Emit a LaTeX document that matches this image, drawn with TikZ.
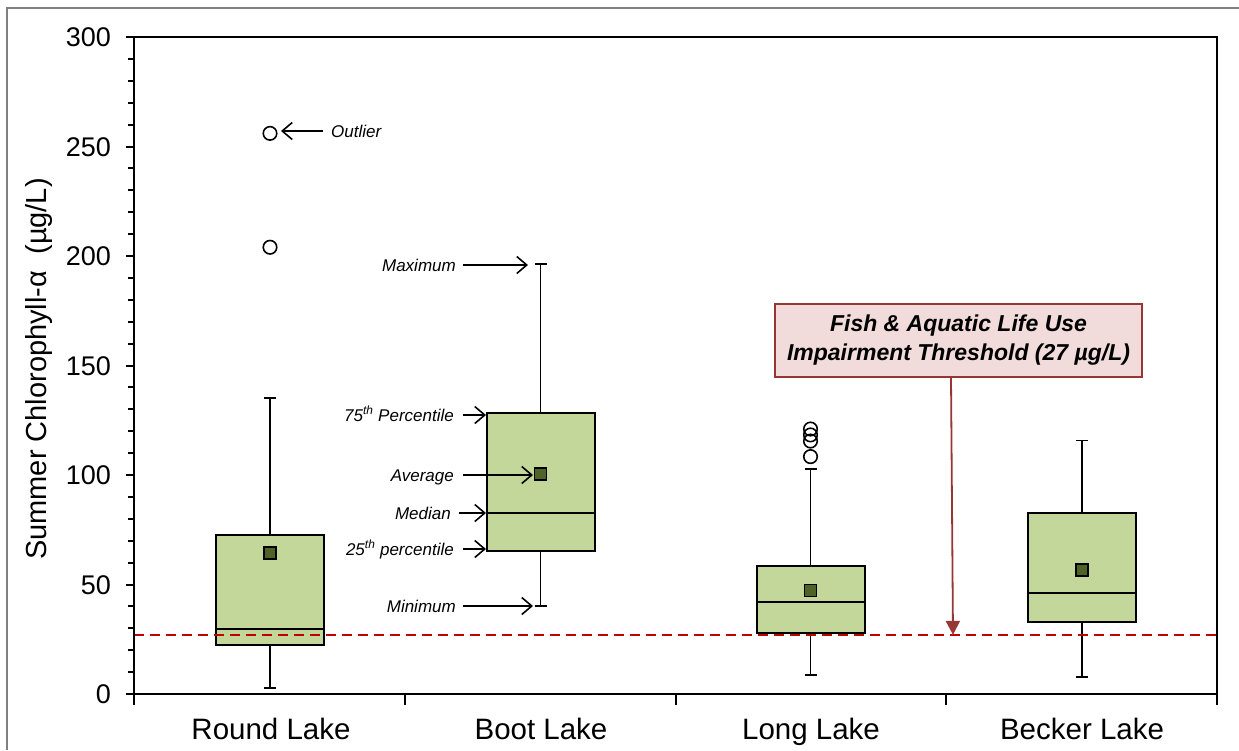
\documentclass[tikz,border=0pt]{standalone}
\usepackage{fontspec}
\setmainfont{Liberation Sans}
\usetikzlibrary{arrows.meta}
\definecolor{boxfill}{RGB}{196,215,155}
\definecolor{meanfill}{RGB}{79,98,40}
\definecolor{thr}{RGB}{192,0,0}
\definecolor{calloutfill}{RGB}{242,220,219}
\definecolor{calloutdraw}{RGB}{150,55,53}
\definecolor{framegray}{RGB}{128,128,128}
\newcommand\yv[1]{694-2.19*#1}
% center, q1, median, q3, mean, min, max, name
\newcommand\lakebox[8]{%
  \draw[whisk] (#1,{\yv{#7}}) -- (#1,{\yv{#4}});
  \draw[whisk] (#1-6,{\yv{#7}}) -- (#1+6,{\yv{#7}});
  \draw[whisk] (#1,{\yv{#6}}) -- (#1,{\yv{#2}});
  \draw[whisk] (#1-6,{\yv{#6}}) -- (#1+6,{\yv{#6}});
  \draw[boxst] (#1-54,{\yv{#2}}) rectangle (#1+54,{\yv{#4}});
  \draw[boxst] (#1-54,{\yv{#3}}) -- (#1+54,{\yv{#3}});
  \node[meanmk] (#8mean) at (#1,{\yv{#5}}) {};
  \coordinate (#8max) at (#1,{\yv{#7}});
  \coordinate (#8min) at (#1,{\yv{#6}});
  \coordinate (#8qa) at (#1-54,{\yv{#2}});
  \coordinate (#8qc) at (#1-54,{\yv{#4}});
  \coordinate (#8med) at (#1-54,{\yv{#3}});
}
\begin{document}
\begin{tikzpicture}[x=1pt,y=-1pt,
  boxst/.style={draw=black, line width=2pt, fill=boxfill},
  whisk/.style={draw=black, line width=1.8pt},
  meanmk/.style={rectangle, draw=black, line width=1.6pt, fill=meanfill, minimum size=12pt, inner sep=0pt},
  outl/.style={circle, draw=black, line width=1.6pt, minimum size=13.5pt, inner sep=0pt},
  annot/.style={font=\fontsize{17}{20}\selectfont\itshape, inner sep=0pt, anchor=base east},
  annarrow/.style={-{Straight Barb[length=10pt,width=17pt]}, line width=1.6pt},
  ticklab/.style={font=\fontsize{27}{30}\selectfont, anchor=base east, inner sep=0pt},
  catlab/.style={font=\fontsize{29.5}{32}\selectfont, anchor=base, inner sep=0pt},
  callout/.style={draw=calloutdraw, line width=2pt, fill=calloutfill, minimum width=367pt, minimum height=73pt, align=center, inner sep=0pt, font=\fontsize{23}{29}\selectfont\bfseries\itshape},
  thrline/.style={draw=thr, line width=1.8pt, dash pattern=on 10pt off 6pt}
]
\useasboundingbox (0,0) rectangle (1239,750);
\fill[white] (0,0) rectangle (1239,750);
% outer frame
\draw[framegray, line width=2.2pt] (7,750) -- (7,8) -- (1239,8);
% boxes
\lakebox{270}{22.5}{29.5}{72.5}{64.5}{2.6}{135.2}{round}
\lakebox{540.5}{65.4}{82.8}{128.3}{100.4}{40.2}{196.3}{boot}
\lakebox{810.5}{27.7}{41.9}{58.4}{47.2}{8.7}{102.7}{long}
\lakebox{1082}{33}{46.3}{82.8}{56.6}{7.9}{115.8}{becker}
% outliers
\node[outl] (rout1) at (270,{\yv{204}}) {};
\node[outl] (rout2) at (270,{\yv{256}}) {};
\node[outl] (lout1) at (810.5,{\yv{108.4}}) {};
\node[outl] (lout2) at (810.5,{\yv{115.5}}) {};
\node[outl] (lout3) at (810.5,{\yv{118.3}}) {};
\node[outl] (lout4) at (810.5,{\yv{121}}) {};
% threshold line
\draw[thrline] (134,{\yv{27}}) -- (1217,{\yv{27}});
% plot frame
\draw[black, line width=2.4pt] (134,37) rectangle (1217,694);
% y ticks
\foreach \v in {10,20,30,40,60,70,80,90,110,120,130,140,160,170,180,190,210,220,230,240,260,270,280,290}
  \draw[black, line width=2pt] (128,{\yv{\v}}) -- (134,{\yv{\v}});
\foreach \v in {0,50,...,300}{
  \draw[black, line width=2pt] (126,{\yv{\v}}) -- (134,{\yv{\v}});
  \node[ticklab] (tl\v) at (111,{\yv{\v}+9.5}) {\v};
}
% x ticks
\foreach \x in {134,405,676,946,1217}
  \draw[black, line width=2pt] (\x,694) -- (\x,705);
\node[catlab] (c1) at (271,739) {Round Lake};
\node[catlab] (c2) at (541,739) {Boot Lake};
\node[catlab] (c3) at (811,739) {Long Lake};
\node[catlab] (c4) at (1082,739) {Becker Lake};
% y label
\node[rotate=90, font=\fontsize{29}{32}\selectfont, inner sep=0pt] (ylab) at (39,369) {Summer Chlorophyll-α\ \ (µg/L)};
% annotations
\node[annot, anchor=base west] (aout) at (331,137) {Outlier};
\coordinate (outtip) at (281,131);
\draw[annarrow] (323,131) -- (outtip);
\node[annot] (amax) at (456,271) {Maximum};
\node[annot] (aq3) at (454,421) {75\textsuperscript{th} Percentile};
\node[annot] (aavg) at (454,481) {Average};
\node[annot] (amed) at (451,519) {Median};
\node[annot] (aq1) at (454,555) {25\textsuperscript{th} percentile};
\node[annot] (amin) at (456,612) {Minimum};
\coordinate (tmax) at (528,265);
\coordinate (tq3) at (486,415);
\coordinate (tavg) at (533,475);
\coordinate (tmed) at (486,513);
\coordinate (tq1) at (486,549);
\coordinate (tmin) at (533,606);
\draw[annarrow] (463,265) -- (tmax);
\draw[annarrow] (463,415) -- (tq3);
\draw[annarrow] (463,475) -- (tavg);
\draw[annarrow] (459,513) -- (tmed);
\draw[annarrow] (463,549) -- (tq1);
\draw[annarrow] (463,606) -- (tmin);
% callout
\node[callout] (thrbox) at (958.5,340.5) {Fish \& Aquatic Life Use\\Impairment Threshold (27 µg/L)};
\coordinate (thrpt) at (953,{\yv{27}});
\draw[calloutdraw, line width=1.8pt, -{Triangle[length=14pt,width=14pt]}] ([xshift=-7.5pt]thrbox.south) -- (thrpt);
\end{tikzpicture}
\end{document}
